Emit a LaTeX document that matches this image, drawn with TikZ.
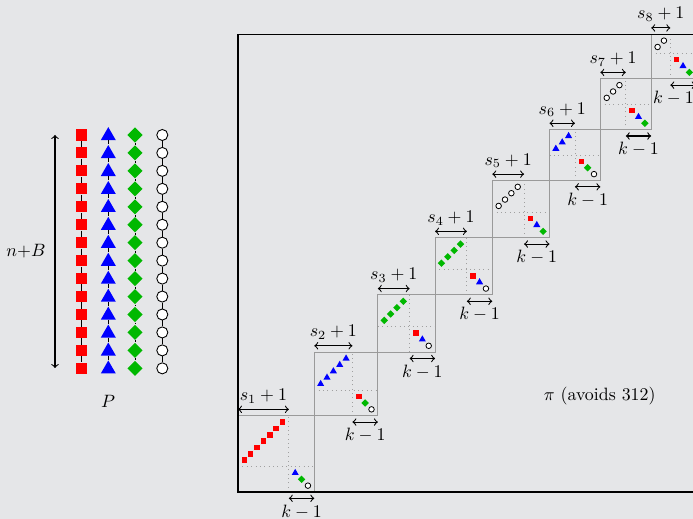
\documentclass[tikz,border=0pt]{standalone}
\usetikzlibrary{shapes.geometric,calc}
\definecolor{bg}{HTML}{E5E6E8}
\definecolor{mkred}{HTML}{FF0000}
\definecolor{mkblue}{HTML}{0000FF}
\definecolor{mkgreen}{HTML}{00B800}
\definecolor{boxgray}{HTML}{9A9A9A}
\definecolor{dotgray}{HTML}{A0A0A0}
\begin{document}
\begin{tikzpicture}[x=0.56pt,y=-0.56pt,
  bigR/.style={rectangle, fill=mkred, inner sep=0pt, minimum size=6.2pt},
  bigB/.style={regular polygon, regular polygon sides=3, fill=mkblue, inner sep=0pt, minimum size=9.7pt},
  bigG/.style={diamond, fill=mkgreen, inner sep=0pt, minimum size=8.6pt},
  bigW/.style={circle, draw=black, fill=white, line width=0.5pt, inner sep=0pt, minimum size=6.2pt},
  smR/.style={rectangle, fill=mkred, inner sep=0pt, minimum size=3.1pt},
  smB/.style={regular polygon, regular polygon sides=3, fill=mkblue, inner sep=0pt, minimum size=4.6pt},
  smG/.style={diamond, fill=mkgreen, inner sep=0pt, minimum size=4.3pt},
  smW/.style={circle, draw=black, fill=white, line width=0.45pt, inner sep=0pt, minimum size=3.1pt},
  chain/.style={black, line width=0.5pt},
  dbl/.style={<->, line width=0.6pt},
  blockbox/.style={boxgray, line width=0.6pt},
  blockdiv/.style={dotgray, dotted, line width=0.45pt},
]
\useasboundingbox (0,0) rectangle (693,519);
\fill[bg] (0,0) rectangle (693,519);

% ---- the pile P: four columns of markers ----
\foreach \i in {0,...,13} {
  \node[bigR] (pr\i) at (81.5, 135+17.95*\i) {};
  \node[bigB] (pb\i) at (108.3, 135.8+17.95*\i) {};
  \node[bigG] (pg\i) at (135, 135+17.95*\i) {};
  \node[bigW] (pw\i) at (162.3, 135+17.95*\i) {};
}
\foreach \i in {0,...,12} {
  \pgfmathtruncatemacro\nx{\i+1}
  \draw[chain] (pr\i) -- (pr\nx);
  \draw[chain] (pb\i) -- (pb\nx);
  \draw[chain] (pg\i) -- (pg\nx);
  \draw[chain] (pw\i) -- (pw\nx);
}
\coordinate (htop) at (55,135);
\coordinate (hbot) at (55,368);
\draw[dbl] (htop) -- (hbot);
\node (hlabel) at (26,251) {$n{+}B$};
\node (plabel) at (108,401) {$P$};

% ---- the permutation pi: staircase of blocks ----
\begin{scope}[shift={(238,492)}, x=3.56pt, y=3.56pt]
  \foreach \o/\s/\m/\a/\b/\c/\i/\ks in {
      0/7/R/B/G/W/1/0, 12/5/B/R/G/W/2/0, 22/4/G/R/B/W/3/0,
      31/4/G/R/B/W/4/0, 40/4/W/R/B/G/5/0, 49/3/B/R/G/W/6/0,
      57/3/W/R/B/G/7/0, 65/2/W/R/B/G/8/-1.5} {
    \pgfmathtruncatemacro\e{\o+\s+5}
    \pgfmathtruncatemacro\d{\o+\s+1}
    \draw[blockdiv] (\d,\o) -- (\d,\e);
    \draw[blockdiv] (\o,\o+4) -- (\e,\o+4);
    \draw[blockbox] (\o,\o) rectangle (\e,\e);
    \foreach \j in {1,...,\s}
      \node[sm\m] (q\i m\j) at (\o+\j, \o+4+\j) {};
    \node[sm\a] (q\i a) at (\d+1, \o+3) {};
    \node[sm\b] (q\i b) at (\d+2, \o+2) {};
    \node[sm\c] (q\i c) at (\d+3, \o+1) {};
    % width of the upper-left part
    \coordinate (sl\i) at (\o, \e+1);
    \coordinate (sr\i) at (\d, \e+1);
    \draw[dbl] (sl\i) -- (sr\i);
    \node[above] (st\i) at ($(sl\i)!0.5!(sr\i)$) {$s_{\i}+1$};
    % width of the lower-right part
    \coordinate (kl\i) at (\d, \o-1);
    \coordinate (kr\i) at (\e, \o-1);
    \draw[dbl] (kl\i) -- (kr\i);
    \node[below] (kt\i) at ($(kl\i)!0.5!(kr\i)+(\ks,0)$) {$k-1$};
  }
  \draw[line width=0.85pt] (0,0) rectangle (72,72);
  \node (pilabel) at (56.9,15.1) {$\pi$ (avoids 312)};
\end{scope}
\end{tikzpicture}
\end{document}
